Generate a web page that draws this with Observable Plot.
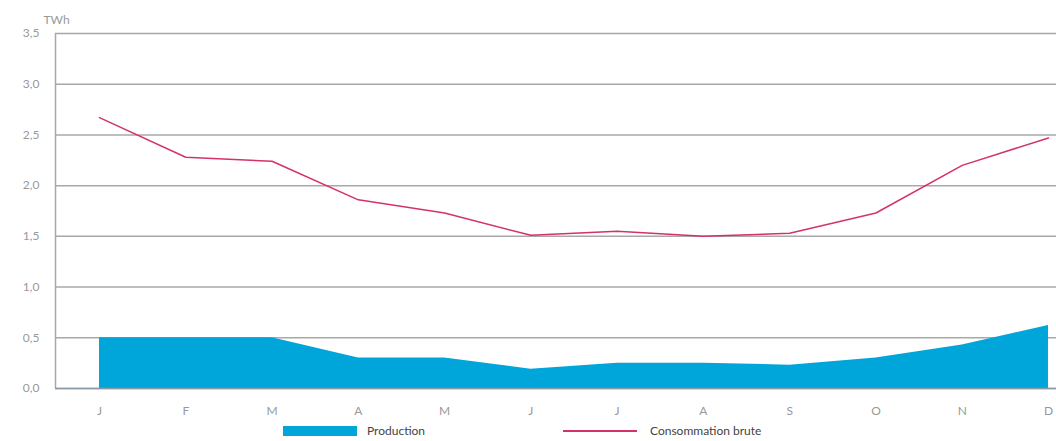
<!DOCTYPE html>
<html>
<head>
<meta charset="utf-8">
<script src="https://cdn.jsdelivr.net/npm/d3@7"></script>
<script src="https://cdn.jsdelivr.net/npm/@observablehq/plot@0.6"></script>
<style>
  html, body { margin: 0; padding: 0; background: #fff; }
  #chart svg { display: block; }
  .legend { position: relative; height: 21px; font-family: Lato, "Open Sans", sans-serif; font-size: 12px; color: #444; }
  .legend .sw { position: absolute; top: 6px; }
  .legend .lb { position: absolute; top: 3px; }
</style>
</head>
<body>
<div id="chart"></div>
<div class="legend">
  <span class="sw" style="left:283px;width:74px;height:10px;background:#00a5d9"></span>
  <span class="lb" style="left:367px">Production</span>
  <span class="sw" style="left:563px;top:10px;width:74px;height:2px;background:#d4326a"></span>
  <span class="lb" style="left:650px">Consommation brute</span>
</div>
<script>
const months = ["J", "F", "M", "A", "M", "J", "J", "A", "S", "O", "N", "D"];
const production = [0.50, 0.50, 0.50, 0.30, 0.30, 0.19, 0.25, 0.25, 0.23, 0.30, 0.43, 0.62];
const consommation = [2.67, 2.28, 2.24, 1.86, 1.73, 1.51, 1.55, 1.50, 1.53, 1.73, 2.20, 2.47];
const yTicks = [0, 0.5, 1, 1.5, 2, 2.5, 3, 3.5];
const xDomain = [-0.51, 11.093];
const unitLabel = "TWh";

const data = months.map((m, i) => ({i, m, production: production[i], consommation: consommation[i]}));

const chart = Plot.plot({
  width: 1056,
  height: 420,
  marginLeft: 55,
  marginRight: 0,
  marginTop: 33,
  marginBottom: 32,
  style: {fontFamily: "Lato, 'Open Sans', sans-serif", fontSize: "12px", color: "#999", background: "#fff"},
  x: {domain: xDomain, ticks: d3.range(12), tickFormat: i => months[i], tickSize: 0, tickPadding: 18, label: null},
  y: {domain: [0, 3.5], ticks: yTicks, tickFormat: d => d.toFixed(1).replace(".", ","), tickSize: 0, tickPadding: 16, label: null},
  marks: [
    Plot.gridY(yTicks, {stroke: "#a8a8a8", strokeOpacity: 1, strokeWidth: 1.5}),
    Plot.areaY(data, {x: "i", y: "production", fill: "#00a5d9"}),
    Plot.ruleY([0], {stroke: "#8c9aa8", strokeWidth: 1.5}),
    Plot.ruleX([xDomain[0]], {stroke: "#a8a8a8", strokeWidth: 1.5}),
    Plot.lineY(data, {x: "i", y: "consommation", stroke: "#d4326a", strokeWidth: 1.5}),
    Plot.text([unitLabel], {frameAnchor: "top-left", dx: -12, dy: -18, textAnchor: "start", fill: "#999", fontSize: 12})
  ]
});
document.getElementById("chart").appendChild(chart);
</script>
</body>
</html>
